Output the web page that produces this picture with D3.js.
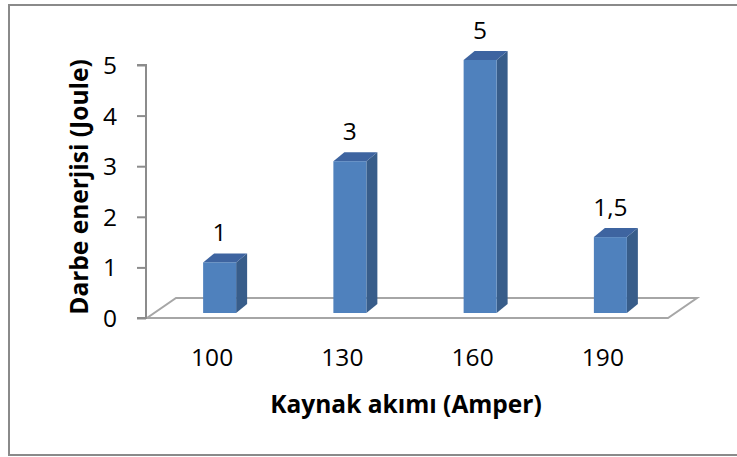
<!DOCTYPE html>
<html>
<head>
<meta charset="utf-8">
<script src="https://cdn.jsdelivr.net/npm/d3@7"></script>
<style>
  html, body { margin: 0; padding: 0; background: #fff; }
  svg { display: block; }
  text { font-family: "Open Sans", sans-serif; fill: #000; }
</style>
</head>
<body>
<script>
// Darbe enerjisi by welding current
const categories = ["100", "130", "160", "190"];
const values = [1, 3, 5, 1.5];
const valueLabels = ["1", "3", "5", "1,5"];
const yTicks = [0, 1, 2, 3, 4, 5];

const W = 737, H = 457;
const svg = d3.select("body").append("svg").attr("width", W).attr("height", H);

// outer frame
svg.append("rect")
  .attr("x", 9).attr("y", 5).attr("width", 740).attr("height", 450)
  .attr("fill", "none").attr("stroke", "#8a8a8a").attr("stroke-width", 2);

const x = d3.scaleBand().domain(categories).range([147, 668]).padding(0);
const y = d3.scaleLinear().domain([0, 5]).range([318, 65]);

// floor depth and bar depth offsets
const floorDx = 29, floorDy = -20;
const frontDx = 7.5, frontDy = -5;
const barDx = 11, barDy = -9;
const barW = 33;

const axisColor = "#8c8c8c";

// floor plane
const y0 = y(0);
svg.append("path")
  .attr("d", `M${x.range()[0]},${y0} L${x.range()[1]},${y0} L${x.range()[1] + floorDx},${y0 + floorDy} L${x.range()[0] + floorDx},${y0 + floorDy} Z`)
  .attr("fill", "none").attr("stroke", "#a6a6a6").attr("stroke-width", 2);

// vertical axis
const yAxis = d3.axisLeft(y).tickValues(yTicks).tickFormat(d3.format("d")).tickSize(9).tickPadding(20);
const gy = svg.append("g").attr("transform", "translate(146,0)").call(yAxis);
gy.select(".domain").attr("stroke", axisColor).attr("stroke-width", 2).attr("d", `M-9,${y(5)}H0V${y(0)}H-9`);
gy.selectAll(".tick line").attr("stroke", axisColor).attr("stroke-width", 2);
gy.selectAll(".tick text").attr("font-size", 24.5).attr("font-family", "'Open Sans', sans-serif").attr("fill", "#000").attr("dy", "0.35em");

// category labels
svg.append("g").selectAll("text").data(categories).join("text")
  .attr("x", d => x(d) + x.bandwidth() / 2)
  .attr("y", 366)
  .attr("text-anchor", "middle")
  .attr("font-size", 24.5)
  .text(d => d);

// 3D bars
const bars = svg.append("g").selectAll("g").data(values).join("g");
bars.each(function(v, i) {
  const g = d3.select(this);
  const cx = x(categories[i]) + x.bandwidth() / 2 + frontDx;
  const x0 = cx - barW / 2, x1 = cx + barW / 2;
  const yt = y(v) + frontDy, yb = y(0) + frontDy;
  // side face
  g.append("path")
    .attr("d", `M${x1},${yt} L${x1 + barDx},${yt + barDy} L${x1 + barDx},${yb + barDy} L${x1},${yb} Z`)
    .attr("fill", "#385d8a");
  // top face
  g.append("path")
    .attr("d", `M${x0},${yt} L${x0 + barDx},${yt + barDy} L${x1 + barDx},${yt + barDy} L${x1},${yt} Z`)
    .attr("fill", "#3e64a0");
  // front face
  g.append("rect")
    .attr("x", x0).attr("y", yt).attr("width", barW).attr("height", yb - yt)
    .attr("fill", "#4f81bd");
  // value label
  g.append("text")
    .attr("x", cx).attr("y", yt + barDy - 12)
    .attr("text-anchor", "middle").attr("font-size", 24.5)
    .text(valueLabels[i]);
});

// axis titles
svg.append("text")
  .attr("x", 406).attr("y", 413)
  .attr("text-anchor", "middle").attr("font-size", 24.5).attr("font-weight", "bold")
  .text("Kaynak akımı (Amper)");

svg.append("text")
  .attr("transform", "translate(88,187) rotate(-90)")
  .attr("text-anchor", "middle").attr("font-size", 24.5).attr("font-weight", "bold")
  .text("Darbe enerjisi (Joule)");
</script>
</body>
</html>
